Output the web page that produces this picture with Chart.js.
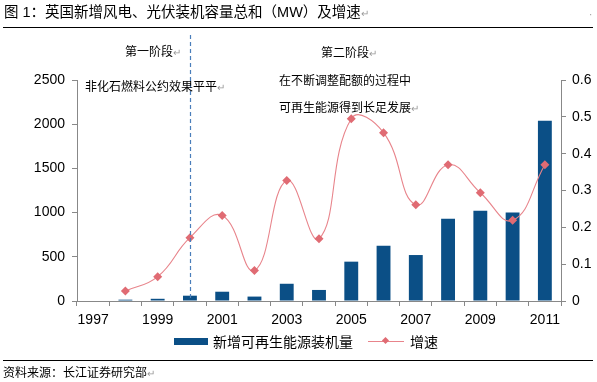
<!DOCTYPE html>
<html>
<head>
<meta charset="utf-8">
<script src="https://cdn.jsdelivr.net/npm/chart.js@4/dist/chart.umd.min.js"></script>
<style>
  html,body{margin:0;padding:0;background:#fff;}
  #wrap{position:relative;width:597px;height:382px;overflow:hidden;font-family:"Liberation Sans","Noto Sans CJK SC",sans-serif;color:#000;}
  #c{position:absolute;left:0;top:0;}
  .t{position:absolute;white-space:nowrap;line-height:1;}
  .pm{color:#9a9a9a;font-size:10px;}
  .hr{position:absolute;left:3px;width:590px;height:0;border-top:1.5px solid #000;}
</style>
</head>
<body>
<div id="wrap">
  <canvas id="c" width="597" height="382"></canvas>
  <div class="t" style="left:4px;top:5px;font-size:14.5px;">图 1：英国新增风电、光伏装机容量总和（MW）及增速<span class="pm">↵</span></div>
  <div class="t pm" style="left:589px;top:10px;">·</div>
  <div class="hr" style="top:27px;"></div>

  <div class="t" style="left:125px;top:46px;font-size:12px;">第一阶段<span class="pm">↵</span></div>
  <div class="t" style="left:85px;top:81px;font-size:12px;">非化石燃料公约效果平平<span class="pm">↵</span></div>
  <div class="t" style="left:321px;top:47px;font-size:12px;">第二阶段<span class="pm">↵</span></div>
  <div class="t" style="left:279px;top:75px;font-size:12px;">在不断调整配额的过程中</div>
  <div class="t" style="left:279px;top:102px;font-size:12px;">可再生能源得到长足发展<span class="pm">↵</span></div>

  <div style="position:absolute;left:174px;top:338px;width:34px;height:7px;background:#0b4f86;"></div>
  <div class="t" style="left:213px;top:335px;font-size:14px;">新增可再生能源装机量</div>
  <div style="position:absolute;left:368px;top:341px;width:36px;height:0;border-top:1px solid #e8848b;"></div>
  <div style="position:absolute;left:383px;top:338px;width:5px;height:5px;background:#e06b73;transform:rotate(45deg);"></div>
  <div class="t" style="left:410px;top:335px;font-size:14px;">增速</div>

  <div class="hr" style="top:360px;"></div>
  <div class="t" style="left:3px;top:367px;font-size:12px;">资料来源：长江证券研究部<span class="pm">↵</span></div>
</div>
<script>
const years = ['1997','1998','1999','2000','2001','2002','2003','2004','2005','2006','2007','2008','2009','2010','2011'];
const newCapacity = [0, 15, 25, 60, 105, 50, 195, 125, 445, 625, 520, 930, 1020, 1000, 2040];
const growthRate = [null, 0.027, 0.066, 0.172, 0.232, 0.083, 0.327, 0.169, 0.495, 0.457, 0.261, 0.370, 0.294, 0.219, 0.370];
const leftTicks = [0, 500, 1000, 1500, 2000, 2500];
const rightTicks = [0, 0.1, 0.2, 0.3, 0.4, 0.5, 0.6];
const phaseBoundaryYear = '2000';

const dividerPlugin = {
  id: 'divider',
  afterDatasetsDraw(chart) {
    const x = chart.scales.x.getPixelForValue(years.indexOf(phaseBoundaryYear));
    const ctx = chart.ctx;
    ctx.save();
    ctx.strokeStyle = '#4a7ebb';
    ctx.lineWidth = 1.2;
    ctx.setLineDash([4, 3]);
    ctx.beginPath();
    ctx.moveTo(Math.round(x) + 0.5, 35);
    ctx.lineTo(Math.round(x) + 0.5, chart.chartArea.bottom);
    ctx.stroke();
    ctx.restore();
  }
};

const axisColor = '#888888';
const tickFont = {family: '"Liberation Sans", Arial, sans-serif', size: 14};

new Chart(document.getElementById('c'), {
  data: {
    labels: years,
    datasets: [
      {
        type: 'line',
        label: '增速',
        data: growthRate,
        yAxisID: 'y1',
        borderColor: '#e8848b',
        borderWidth: 1.1,
        backgroundColor: '#e06b73',
        pointStyle: 'rectRot',
        pointRadius: 4.5,
        pointBorderWidth: 0,
        pointBackgroundColor: '#e06b73',
        tension: 0.45,
        spanGaps: false,
        order: 0
      },
      {
        type: 'bar',
        label: '新增可再生能源装机量',
        data: newCapacity,
        yAxisID: 'y',
        backgroundColor: '#0b4f86',
        barPercentage: 0.43,
        categoryPercentage: 1,
        order: 1
      }
    ]
  },
  options: {
    responsive: false,
    animation: false,
    devicePixelRatio: 1,
    layout: {padding: {top: 80, bottom: 50, left: 0, right: 0}},
    plugins: {legend: {display: false}, tooltip: {enabled: false}},
    scales: {
      x: {
        type: 'category',
        offset: true,
        grid: {offset: true, drawOnChartArea: false, drawTicks: true, tickLength: 5, color: axisColor},
        border: {display: true, color: axisColor},
        ticks: {
          autoSkip: false, maxRotation: 0, padding: 6, color: '#000', font: tickFont,
          callback: function(v, i) { return i % 2 === 0 ? years[i] : ''; }
        },
        afterFit(s) { s.height = 31; }
      },
      y: {
        position: 'left',
        min: leftTicks[0], max: leftTicks[leftTicks.length - 1],
        afterBuildTicks(s) { s.ticks = leftTicks.map(v => ({value: v})); },
        grid: {drawOnChartArea: false, drawTicks: true, tickLength: 5, color: axisColor},
        border: {display: true, color: axisColor},
        ticks: {padding: 7, color: '#000', font: tickFont, callback: v => String(v)},
        afterFit(s) { s.width = 77; }
      },
      y1: {
        position: 'right',
        min: rightTicks[0], max: rightTicks[rightTicks.length - 1],
        afterBuildTicks(s) { s.ticks = rightTicks.map(v => ({value: v})); },
        grid: {drawOnChartArea: false, drawTicks: true, tickLength: 5, color: axisColor},
        border: {display: true, color: axisColor},
        ticks: {padding: 6, color: '#000', font: tickFont, callback: v => String(Number(v.toFixed(1)))},
        afterFit(s) { s.width = 36; }
      }
    }
  },
  plugins: [dividerPlugin]
});
</script>
</body>
</html>
